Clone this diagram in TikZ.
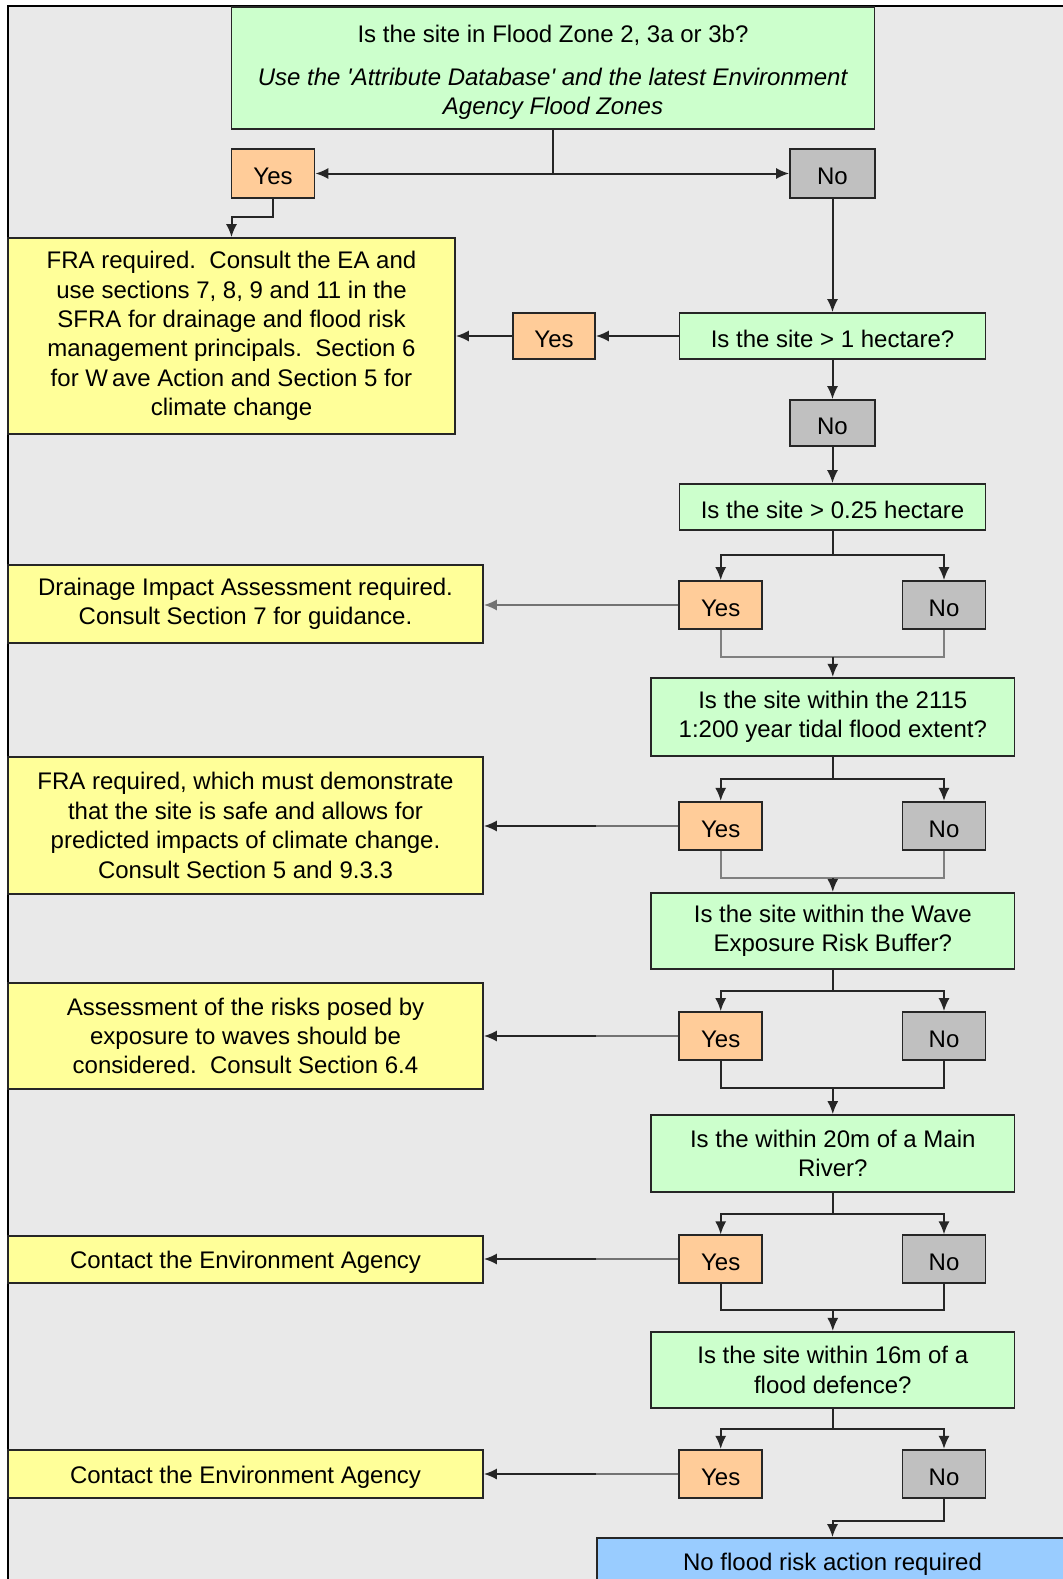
\documentclass[tikz,border=0pt]{standalone}
\usepackage{fontspec}
\setmainfont{Liberation Sans}
\usetikzlibrary{arrows.meta}
\definecolor{backgrey}{HTML}{E9E9E9}
\definecolor{questgreen}{HTML}{CCFFCC}
\definecolor{yesorange}{HTML}{FFCC99}
\definecolor{nogrey}{HTML}{C0C0C0}
\definecolor{actyellow}{HTML}{FFFF99}
\definecolor{endblue}{HTML}{99CCFF}
\tikzset{>={Latex[length=6.5pt,width=5.5pt]}}
\tikzset{
  box/.style={draw=black!85, line width=0.8pt, inner sep=0pt, align=center,
    font=\fontsize{12}{14.7}\selectfont,
    execute at begin node={\rule{0pt}{11.5pt}}},
  sz/.style 2 args={minimum width=#1*0.5pt, minimum height=#2*0.5pt},
  quest/.style={box, fill=questgreen},
  yesbox/.style={box, fill=yesorange},
  nobox/.style={box, fill=nogrey},
  actbox/.style={box, fill=actyellow},
  endbox/.style={box, fill=endblue},
  link/.style={line width=1pt, black!85},
  side/.style={line width=1pt, black!55},
  merge/.style={line width=1pt, black!50}
}

\begin{document}
\begin{tikzpicture}[x=0.5pt,y=-0.5pt]
  \useasboundingbox (0,0) rectangle (1063,1579);
  \fill[backgrey] (8,6) rectangle (1063,1579);
  \draw[line width=1pt] (8,1579) -- (8,6) -- (1063,6);

  % flood zone question
  \node[quest,sz={643}{122}] (zone) at (553,68)
    {\rule{0pt}{13pt}Is the site in Flood Zone 2, 3a or 3b?\\[7pt]
     \textit{Use the \textquotesingle Attribute Database\textquotesingle\ and the latest Environment}\\
     \textit{Agency Flood Zones}};
  \node[yesbox,sz={83}{49}] (yes1) at (273,173.5) {Yes};
  \node[nobox,sz={85}{49}] (no1) at (832.5,173.5) {No};
  \node[actbox,sz={447}{196}] (fra) at (231.5,336)
    {FRA required.\ \ Consult the EA and\\
     use sections 7, 8, 9 and 11 in the\\
     SFRA for drainage and flood risk\\
     management principals.\ \ Section 6\\
     for W\kern2pt ave Action and Section 5 for\\
     climate change};

  % site size
  \node[quest,sz={306}{46}] (hect) at (832.5,336) {Is the site > 1 hectare?};
  \node[yesbox,sz={82}{46}] (yes2) at (554,336) {Yes};
  \node[nobox,sz={85}{46}] (no2) at (832.5,423) {No};
  \node[quest,sz={306}{46}] (quarter) at (832.5,507) {Is the site > 0.25 hectare};
  \node[yesbox,sz={83}{48}] (yes3) at (720.7,605) {Yes};
  \node[nobox,sz={83}{48}] (no3) at (944,605) {No};
  \node[actbox,sz={475}{78.5}] (drain) at (245.5,604)
    {Drainage Impact Assessment required.\\ Consult Section 7 for guidance.};

  % tidal extent
  \node[quest,sz={363.5}{78.5}] (tidal) at (832.8,717)
    {Is the site within the 2115\\ 1:200 year tidal flood extent?};
  \node[yesbox,sz={83}{48.5}] (yes4) at (720.7,826) {Yes};
  \node[nobox,sz={83}{48.5}] (no4) at (944,826) {No};
  \node[actbox,sz={475}{137}] (climate) at (245.5,825.5)
    {FRA required, which must demonstrate\\
     that the site is safe and allows for\\
     predicted impacts of climate change.\\
     Consult Section 5 and 9.3.3};

  % wave buffer
  \node[quest,sz={363.5}{76.5}] (wave) at (832.8,931)
    {Is the site within the Wave\\ Exposure Risk Buffer?};
  \node[yesbox,sz={83}{48}] (yes5) at (720.7,1036) {Yes};
  \node[nobox,sz={83}{48}] (no5) at (944,1036) {No};
  \node[actbox,sz={475}{106.5}] (waveact) at (245.5,1036)
    {Assessment of the risks posed by\\
     exposure to waves should be\\
     considered.\ \ Consult Section 6.4};

  % main river
  \node[quest,sz={363.5}{77}] (river) at (832.8,1153.5)
    {Is the within 20m of a Main\\ River?};
  \node[yesbox,sz={83}{47.5}] (yes6) at (720.7,1259) {Yes};
  \node[nobox,sz={83}{47.5}] (no6) at (944,1259) {No};
  \node[actbox,sz={475}{47.5}] (agency1) at (245.5,1259.5) {Contact the Environment Agency};

  % flood defence
  \node[quest,sz={363.5}{76.5}] (defence) at (832.8,1370)
    {Is the site within 16m of a\\ flood defence?};
  \node[yesbox,sz={83}{48.5}] (yes7) at (720.7,1474) {Yes};
  \node[nobox,sz={83}{48.5}] (no7) at (944,1474) {No};
  \node[actbox,sz={475}{48.5}] (agency2) at (245.5,1474) {Contact the Environment Agency};
  \node[endbox,sz={471}{46}] (none) at (832.5,1561) {No flood risk action required};

  % connectors
  \draw[link] (zone.south) -- (zone.south |- yes1.east) coordinate (split1);
  \draw[link,->] (split1) -- (yes1.east);
  \draw[link,->] (split1) -- (no1.west);
  \draw[link,->] (yes1.south) -- ++(0,18) -| (fra.north);
  \draw[link,->] (no1.south) -- (hect.north);
  \draw[link,->] (hect.west) -- (yes2.east);
  \draw[link,->] (yes2.west) -- (fra.east |- yes2.west);
  \draw[link,->] (hect.south) -- (no2.north);
  \draw[link,->] (no2.south) -- (quarter.north);

  \draw[link] (quarter.south) -- ++(0,24) coordinate (b3);
  \draw[link,->] (b3) -| (yes3.north);
  \draw[link,->] (b3) -| (no3.north);
  \draw[side,->] (yes3.west) -- (drain.east |- yes3.west);
  \draw[merge] (yes3.south) -- ++(0,27) coordinate (m3) -| (no3.south);
  \draw[link,->] (m3 -| tidal.north) -- (tidal.north);

  \draw[link] (tidal.south) -- ++(0,22) coordinate (b4);
  \draw[link,->] (b4) -| (yes4.north);
  \draw[link,->] (b4) -| (no4.north);
  \draw[side] (yes4.west) -- ++(-82,0) coordinate (h4);
  \draw[link,->] (h4) -- (climate.east |- h4);
  \draw[merge] (yes4.south) -- ++(0,27) coordinate (m4) -| (no4.south);
  \draw[link,->] (m4 -| wave.north) -- (wave.north);

  \draw[link] (wave.south) -- ++(0,21) coordinate (b5);
  \draw[link,->] (b5) -| (yes5.north);
  \draw[link,->] (b5) -| (no5.north);
  \draw[side] (yes5.west) -- ++(-82,0) coordinate (h5);
  \draw[link,->] (h5) -- (waveact.east |- h5);
  \draw[link] (yes5.south) -- ++(0,27) coordinate (m5) -| (no5.south);
  \draw[link,->] (m5 -| river.north) -- (river.north);

  \draw[link] (river.south) -- ++(0,21) coordinate (b6);
  \draw[link,->] (b6) -| (yes6.north);
  \draw[link,->] (b6) -| (no6.north);
  \draw[side] (yes6.west) -- ++(-82,0) coordinate (h6);
  \draw[link,->] (h6) -- (agency1.east |- h6);
  \draw[link] (yes6.south) -- ++(0,26.5) coordinate (m6) -| (no6.south);
  \draw[link,->] (m6 -| defence.north) -- (defence.north);

  \draw[link] (defence.south) -- ++(0,20) coordinate (b7);
  \draw[link,->] (b7) -| (yes7.north);
  \draw[link,->] (b7) -| (no7.north);
  \draw[side] (yes7.west) -- ++(-82,0) coordinate (h7);
  \draw[link,->] (h7) -- (agency2.east |- h7);
  \draw[link,->] (no7.south) -- ++(0,22) -| (none.north);
\end{tikzpicture}
\end{document}
